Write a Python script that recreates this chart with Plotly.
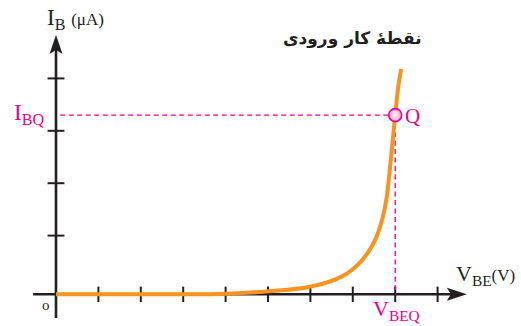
import plotly.graph_objects as go

# ---- data ----
vbe_curve = [0, 1, 2, 3, 3.9, 4.9, 5.9, 6.45, 6.85, 7.15, 7.4, 7.56, 7.7, 7.8, 7.9, 8.0, 8.07, 8.14]
ib_curve = [0, 0, 0, 0, 0.005, 0.05, 0.13, 0.24, 0.39, 0.59, 0.85, 1.1, 1.45, 1.85, 2.6, 3.42, 3.95, 4.3]
vbe_ticks = [1, 2, 3, 4, 5, 6, 7, 8, 9]
ib_ticks = [1.12, 2.12, 3.12, 4.12]
q_vbe = 8.0
q_ib = 3.42

# ---- styles ----
DARK = "#231F20"
MAG = "#EC008C"
ORANGE = "#F7931E"
SERIF = "Liberation Serif"

# pixel mapping: x px = 56 + 42.4*x ; y px = 294.3 - 52.4*y
XR = [-56 / 42.4, (521 - 56) / 42.4]
YR = [(294.3 - 326) / 52.4, 294.3 / 52.4]

fig = go.Figure()

# axis lines
fig.add_shape(type="line", x0=-0.54, y0=0, x1=9.5, y1=0, line=dict(color=DARK, width=2.6), layer="below")
fig.add_shape(type="line", x0=0, y0=-0.45, x1=0, y1=4.8, line=dict(color=DARK, width=2.6), layer="below")
# arrowheads (pixel paths anchored at axis tips)
fig.add_shape(type="path", xref="x", yref="y", xsizemode="pixel", ysizemode="pixel",
              xanchor=9.69, yanchor=0, path="M 0,0 L -20,6.5 L -16,0 L -20,-6.5 Z",
              fillcolor=DARK, line=dict(width=0))
fig.add_shape(type="path", xref="x", yref="y", xsizemode="pixel", ysizemode="pixel",
              xanchor=0, yanchor=4.95, path="M 0,0 L -6.5,-19 L 0,-15 L 6.5,-19 Z",
              fillcolor=DARK, line=dict(width=0))

# ticks
fig.add_trace(go.Scatter(x=vbe_ticks, y=[0] * len(vbe_ticks), mode="markers",
                         marker=dict(symbol="line-ns", size=11, line=dict(color=DARK, width=2)),
                         hoverinfo="skip", showlegend=False))
fig.add_trace(go.Scatter(x=[0] * len(ib_ticks), y=ib_ticks, mode="markers",
                         marker=dict(symbol="line-ew", size=12, line=dict(color=DARK, width=2)),
                         hoverinfo="skip", showlegend=False))

# dashed guide lines
fig.add_trace(go.Scatter(x=[0.1, q_vbe], y=[q_ib, q_ib], mode="lines",
                         line=dict(color=MAG, width=1.3, dash="5px,3.5px"),
                         hoverinfo="skip", showlegend=False))
fig.add_trace(go.Scatter(x=[q_vbe, q_vbe], y=[q_ib, 0], mode="lines",
                         line=dict(color=MAG, width=1.3, dash="5px,3.5px"),
                         hoverinfo="skip", showlegend=False))

# characteristic curve
fig.add_trace(go.Scatter(x=vbe_curve, y=ib_curve, mode="lines",
                         line=dict(color=ORANGE, width=4, shape="spline", smoothing=0.8),
                         hoverinfo="skip", showlegend=False))

# Q point
fig.add_trace(go.Scatter(x=[q_vbe], y=[q_ib], mode="markers",
                         marker=dict(size=13, color="#F49AC8",
                                     gradient=dict(type="radial", color="white"),
                                     line=dict(color=MAG, width=1.6)),
                         hoverinfo="skip", showlegend=False))

def px(xp, yp):
    return xp / 521, 1 - yp / 326

annots = []
def txt(text, xp, yp, size, color, xanchor="left", yanchor="middle", family=SERIF):
    x, y = px(xp, yp)
    annots.append(dict(text=text, x=x, y=y, xref="paper", yref="paper", showarrow=False,
                       xanchor=xanchor, yanchor=yanchor, font=dict(family=family, size=size, color=color)))

txt("I<sub>B</sub> <span style='font-size:17px'>(μA)</span>", 45, 19, 23, DARK)
txt("I<sub>BQ</sub>", 12, 114, 23, MAG)
txt("Q", 403, 116, 21, MAG)
txt("V<sub>BEQ</sub>", 371, 310, 22, MAG)
txt("V<sub>BE</sub><span style='font-size:17px'>(V)</span>", 454, 275, 22, DARK)
txt("o", 46.5, 305, 15, DARK, xanchor="center")
txt("<b>نقطهٔ کار ورودی</b>", 352, 39, 17, DARK, xanchor="center", family="DejaVu Sans")

fig.update_layout(
    width=521, height=326,
    margin=dict(l=0, r=0, t=0, b=0),
    paper_bgcolor="white", plot_bgcolor="white",
    xaxis=dict(range=XR, visible=False, fixedrange=True),
    yaxis=dict(range=YR, visible=False, fixedrange=True),
    annotations=annots,
    showlegend=False,
)

fig.write_html("out.html", config={"displayModeBar": False},
               post_script="document.body.style.margin='0';document.body.style.overflow='hidden';")
